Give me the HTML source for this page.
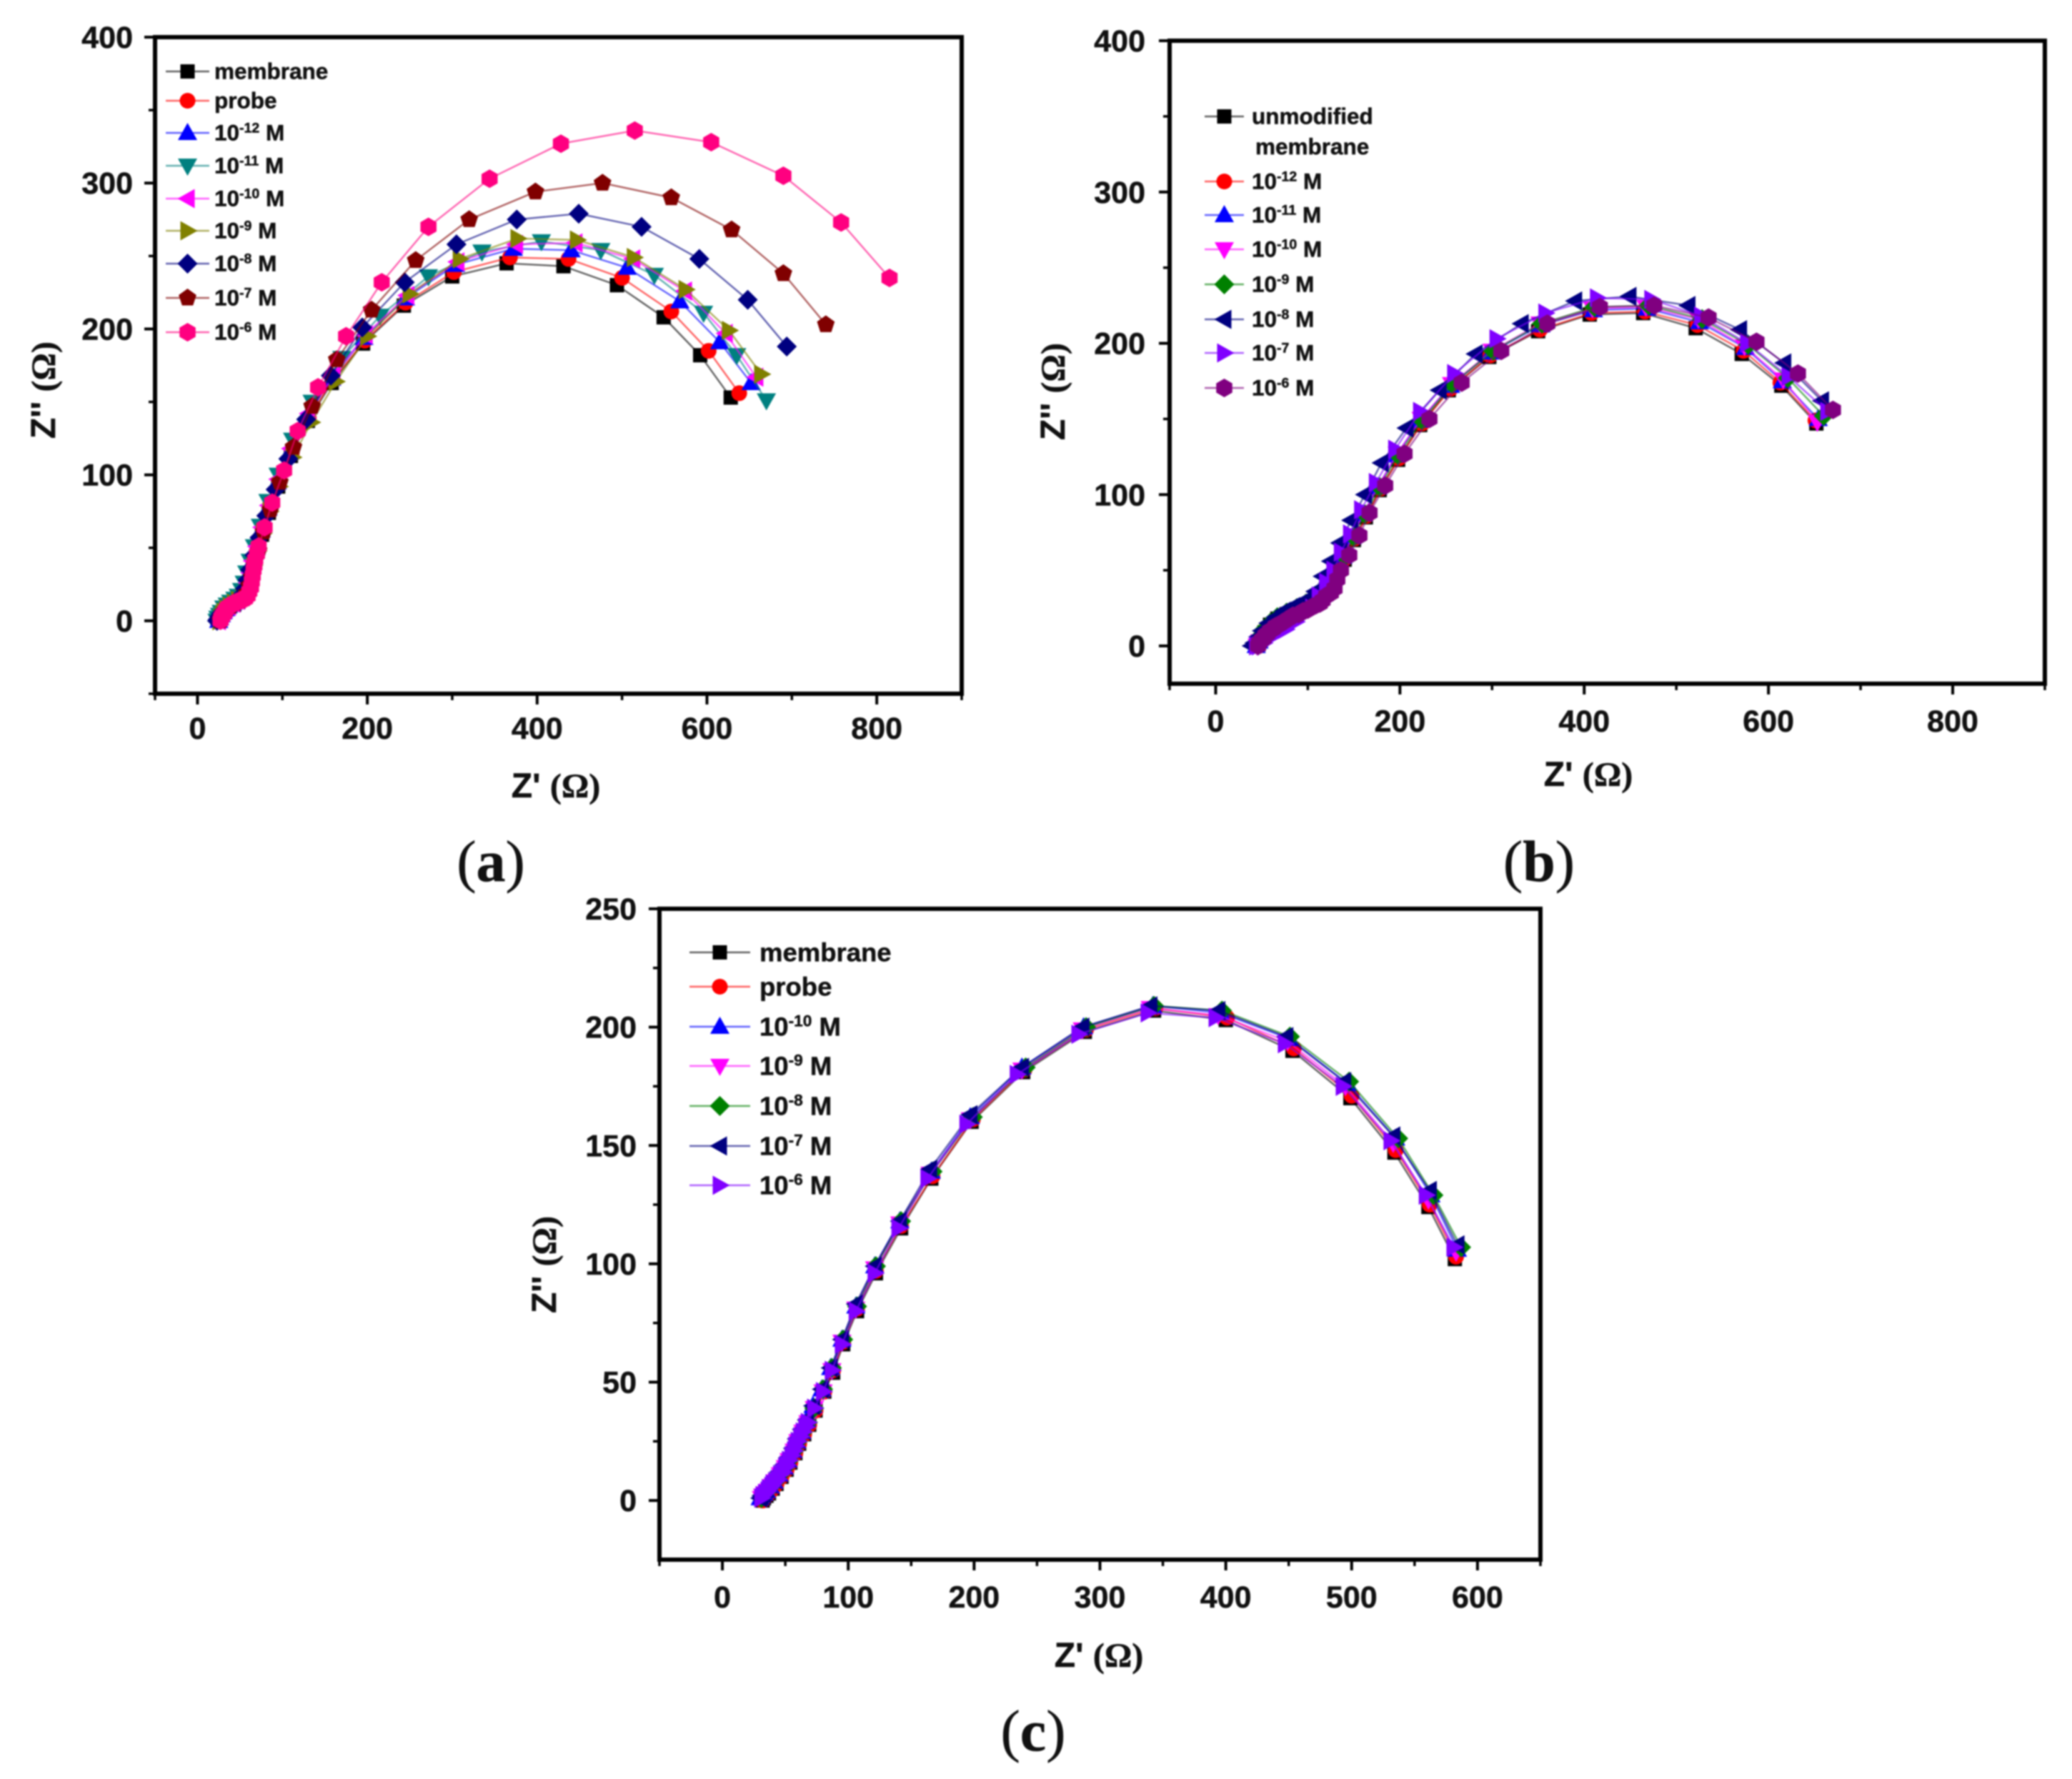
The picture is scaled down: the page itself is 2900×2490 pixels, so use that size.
<!DOCTYPE html>
<html lang="en">
<head>
<meta charset="utf-8">
<title>Nyquist plots</title>
<style>
html,body{margin:0;padding:0;background:#fff;}
svg{display:block;filter:blur(1px);}
text{font-family:"Liberation Sans",sans-serif;font-weight:bold;fill:#111;stroke:#111;stroke-width:0.5px;}
</style>
</head>
<body>
<svg id="fig" xmlns="http://www.w3.org/2000/svg" width="2900" height="2490" viewBox="0 0 2900 2490"></svg>
<script>
/* ---------- panel (a) data ---------- */
const aMembrane=[[628,153],[592,182],[549,208],[494,230],[431,243],[364,245],[300,236],[243,216],[195,190],[158,163],[130,137],[110,113],[95,92],[84,74],[76,59],[70,47],[66,37],[63,29],[60,23],[57,18],[53,15],[48,13],[43,11],[38,10],[34,8],[31,6],[29,4],[27,2],[26,0]];
const aProbe=[[638,156],[602,185],[558,212],[500,235],[437,248],[368,249],[302,239],[245,218],[197,192],[159,165],[131,139],[111,115],[96,94],[85,76],[77,61],[71,48],[67,38],[64,30],[61,24],[58,19],[54,16],[49,14],[44,12],[39,10],[35,8],[32,6],[30,4],[28,2],[27,0]];
const aM12=[[652,163],[615,191],[568,219],[506,242],[440,254],[372,255],[304,244],[245,221],[196,194],[158,166],[129,140],[109,116],[94,95],[83,77],[75,62],[69,50],[64,40],[61,32],[58,25],[55,20],[51,16],[46,14],[41,12],[36,10],[33,8],[30,6],[28,4],[26,2],[25,0]];
const aM11=[[670,151],[635,182],[596,211],[538,237],[475,254],[405,260],[335,253],[272,236],[215,209],[170,180],[135,150],[112,124],[95,100],[83,82],[74,65],[67,51],[62,41],[58,33],[55,26],[52,21],[48,17],[44,15],[39,13],[35,11],[31,9],[28,6],[26,4],[24,2],[23,0]];
const aM10=[[658,167],[622,197],[574,226],[513,248],[445,259],[375,258],[306,246],[247,223],[198,196],[160,168],[131,142],[110,118],[95,97],[84,79],[76,64],[70,51],[65,41],[62,33],[59,26],[56,21],[52,17],[47,14],[42,12],[37,10],[33,8],[30,6],[28,4],[26,2],[25,0]];
const aM9=[[664,169],[626,199],[575,227],[514,249],[447,261],[377,262],[309,248],[250,224],[200,195],[163,164],[134,136],[112,112],[96,92],[85,75],[77,60],[71,48],[66,38],[63,30],[60,24],[57,19],[53,16],[48,14],[43,12],[38,10],[34,8],[31,6],[29,4],[27,2],[26,0]];
const aM8=[[694,188],[648,220],[591,248],[523,270],[449,279],[376,275],[305,258],[244,232],[194,201],[157,168],[128,138],[107,111],[92,90],[81,72],[73,57],[67,45],[62,35],[59,28],[56,22],[53,18],[49,15],[45,13],[40,11],[35,9],[31,7],[28,5],[26,3],[24,1],[23,0]];
const aM7=[[740,203],[690,238],[629,268],[558,290],[477,300],[398,294],[320,275],[257,247],[205,213],[164,179],[135,147],[113,119],[97,95],[86,76],[78,61],[72,48],[67,38],[64,30],[61,24],[58,19],[54,16],[49,14],[44,12],[39,10],[35,8],[32,6],[30,4],[28,2],[27,0]];
const aM6=[[815,235],[758,273],[690,305],[605,328],[515,336],[428,327],[344,303],[272,270],[217,232],[175,195],[142,160],[118,130],[102,103],[88,81],[79,64],[72,51],[70,46],[68,42],[67,38],[66,35],[65,31],[64,27],[63,23],[61,20],[59,17],[56,15],[54,15],[52,14],[50,14],[48,13],[46,13],[44,12],[42,12],[40,11],[37,10],[35,9],[33,7],[31,5],[30,4],[29,3],[28,2],[27,0]];
const aLabels=["membrane","probe","10|-12","10|-11","10|-10","10|-9","10|-8","10|-7","10|-6"];
const aXTicks=[0,200,400,600,800];
const aXMinor=[-50,100,300,500,700,900];
const aYTicks=[0,100,200,300,400];
const aYMinor=[-50,50,150,250,350];

/* ---------- panel (b) data ---------- */
const bMembrane=[[652,147],[614,172],[571,193],[521,210],[464,220],[406,219],[350,208],[297,191],[253,169],[222,146],[198,123],[178,103],[163,85],[150,70],[140,57],[131,46],[123,37],[115,31],[107,28],[98,26],[88,24],[77,21],[67,18],[59,14],[53,9],[49,4],[46,0]];
const bM12=[[651,149],[613,174],[573,195],[523,212],[466,221],[408,220],[352,209],[298,192],[255,170],[224,147],[199,124],[179,104],[164,86],[151,71],[141,58],[132,47],[124,38],[116,32],[108,28],[99,25],[89,22],[78,19],[68,15],[60,11],[54,7],[49,3],[47,0]];
const bM11=[[654,150],[615,175],[575,197],[525,214],[468,223],[410,222],[353,212],[299,194],[255,172],[222,149],[196,126],[176,105],[160,87],[148,72],[138,59],[129,48],[121,39],[113,32],[105,28],[96,25],[86,22],[75,19],[65,15],[57,11],[51,7],[47,3],[44,0]];
const bM10=[[653,148],[616,176],[574,198],[524,216],[467,224],[409,223],[352,213],[300,195],[256,173],[223,150],[197,127],[177,106],[161,88],[149,73],[139,60],[130,49],[122,40],[114,33],[106,28],[97,25],[87,21],[76,18],[66,14],[58,10],[52,6],[48,3],[45,0]];
const bM9=[[660,152],[621,177],[578,199],[528,216],[470,225],[411,224],[354,213],[301,195],[257,173],[224,149],[198,126],[178,105],[162,87],[150,72],[140,59],[131,48],[123,39],[115,33],[107,30],[98,28],[88,25],[77,22],[67,19],[59,15],[53,11],[48,6],[45,1]];
const bM8=[[658,162],[617,187],[569,209],[513,225],[449,231],[390,228],[332,213],[282,193],[243,169],[207,144],[180,121],[162,100],[147,83],[135,68],[125,56],[116,46],[108,36],[100,31],[92,28],[84,26],[74,23],[65,19],[57,15],[50,10],[46,6],[42,2],[39,0]];
const bM7=[[664,155],[622,178],[577,200],[527,218],[473,229],[414,230],[358,220],[305,203],[259,180],[222,155],[195,130],[174,108],[158,90],[146,74],[136,62],[128,50],[120,42],[112,33],[105,25],[97,21],[87,16],[76,11],[66,8],[58,5],[52,2],[47,0],[44,0]];
const bM6=[[670,156],[632,180],[587,201],[535,217],[476,225],[417,224],[360,213],[310,195],[267,174],[232,150],[205,127],[184,106],[167,88],[156,73],[145,60],[136,50],[132,44],[129,38],[125,35],[120,33],[116,30],[113,28],[109,27],[105,26],[100,24],[95,23],[90,21],[84,20],[79,18],[74,16],[69,14],[65,13],[62,11],[59,10],[56,8],[54,7],[52,5],[50,4],[47,2],[46,0]];
const bLabels=["unmodified","10|-12","10|-11","10|-10","10|-9","10|-8","10|-7","10|-6"];
const bXTicks=[0,200,400,600,800];
const bXMinor=[-50,100,300,500,700,900];
const bYTicks=[0,100,200,300,400];
const bYMinor=[50,150,250,350];

/* ---------- panel (c) data ---------- */
const cMembrane=[[582,102],[561,124],[534,147],[499,170],[453,190],[400,203],[343,207],[288,198],[239,181],[198,160],[166,136],[142,115],[122,96],[107,80],[96,66],[88,54],[81,46],[74,38],[69,32],[65,28],[61,24],[58,20],[54,16],[51,13],[47,10],[43,7],[40,5],[37,3],[35,2],[33,1],[32,0]];
const cProbe=[[583,103],[562,125],[535,148],[500,171],[454,191],[401,204],[344,208],[289,199],[240,182],[199,161],[167,137],[142,116],[122,97],[107,81],[96,67],[88,55],[81,46],[74,38],[69,32],[65,28],[61,24],[58,20],[54,16],[51,13],[47,10],[43,7],[40,5],[37,3],[35,2],[33,1],[32,0]];
const cM10=[[584,106],[563,129],[535,153],[497,176],[451,195],[396,206],[342,209],[287,200],[238,183],[197,162],[166,139],[141,118],[121,99],[106,82],[95,68],[86,56],[79,47],[72,40],[67,34],[63,29],[59,25],[56,21],[52,17],[49,14],[45,11],[41,8],[38,6],[35,4],[33,3],[31,2],[30,1]];
const cM9=[[583,105],[561,127],[533,151],[495,175],[449,194],[394,205],[340,208],[286,199],[238,182],[197,161],[165,138],[141,117],[121,98],[106,81],[95,67],[87,55],[80,46],[73,39],[68,33],[64,29],[60,25],[57,21],[53,17],[50,14],[46,11],[42,8],[39,6],[36,4],[34,3],[32,2],[31,1]];
const cM8=[[587,107],[565,129],[537,153],[498,177],[451,196],[397,207],[343,209],[289,200],[241,183],[199,162],[167,139],[142,118],[122,99],[107,82],[96,68],[87,56],[80,47],[73,39],[68,33],[64,29],[60,25],[57,21],[53,17],[50,14],[46,11],[42,8],[39,6],[36,4],[34,3],[32,2],[31,1]];
const cM7=[[584,108],[562,131],[533,154],[494,177],[448,196],[394,207],[340,209],[286,200],[238,183],[197,163],[165,140],[141,118],[121,99],[106,83],[95,68],[86,56],[79,47],[72,40],[67,34],[63,30],[59,26],[56,22],[52,18],[49,15],[45,12],[41,9],[38,7],[35,5],[33,3],[31,2],[30,1]];
const cM6=[[581,107],[559,129],[531,152],[493,175],[447,193],[392,204],[338,206],[283,197],[234,180],[194,159],[163,136],[140,115],[121,96],[106,80],[95,66],[87,55],[80,46],[73,39],[68,33],[66,31],[64,29],[62,27],[60,25],[58,23],[57,21],[55,19],[53,17],[51,15],[50,14],[48,12],[46,11],[44,9],[42,8],[40,7],[39,6],[37,5],[36,4],[34,3],[32,2],[31,1]];
const cLabels=["membrane","probe","10|-10","10|-9","10|-8","10|-7","10|-6"];
const cXTicks=[0,100,200,300,400,500,600];
const cXMinor=[-50,50,150,250,350,450,550,650];
const cYTicks=[0,50,100,150,200,250];
const cYMinor=[25,75,125,175,225];

/* ---------- drawing ---------- */
const NS="http://www.w3.org/2000/svg";
const fig=document.getElementById("fig");
function el(tag,attrs,parent,txt){
  const e=document.createElementNS(NS,tag);
  for(const k in attrs){e.setAttribute(k,attrs[k]);}
  if(txt!==undefined){e.textContent=txt;}
  (parent||fig).appendChild(e);
  return e;
}
function polyPoints(cx,cy,pts){return pts.map(p=>(cx+p[0])+","+(cy+p[1])).join(" ");}
function regular(n,r,rot){
  const out=[];
  for(let i=0;i<n;i++){
    const t=rot+i*2*Math.PI/n;
    out.push([r*Math.cos(t),r*Math.sin(t)]);
  }
  return out;
}
function marker(kind,cx,cy,color,parent,s){
  let m;
  if(kind==="square"){
    m=el("rect",{x:cx-10*s,y:cy-10*s,width:20*s,height:20*s,fill:color},parent);
  }else if(kind==="circle"){
    m=el("circle",{cx:cx,cy:cy,r:11*s,fill:color},parent);
  }else{
    const shapes={
      up:[[0,-14],[13.5,10],[-13.5,10]],
      down:[[0,14],[13.5,-10],[-13.5,-10]],
      left:[[-14,0],[10,-13.5],[10,13.5]],
      right:[[14,0],[-10,-13.5],[-10,13.5]],
      diamond:[[0,-14],[14,0],[0,14],[-14,0]],
      pentagon:regular(5,13,-Math.PI/2),
      hexagon:regular(6,13,-Math.PI/2)
    };
    const pts=shapes[kind].map(p=>[p[0]*s,p[1]*s]);
    m=el("polygon",{points:polyPoints(cx,cy,pts),fill:color},parent);
  }
  
  
  return m;
}
function labelText(label,x,y,size,parent){
  const t=el("text",{x:x,y:y,"font-size":size},parent);
  const parts=label.split("|");
  if(parts.length===1){t.textContent=label;return t;}
  el("tspan",{},t,parts[0]);
  el("tspan",{dy:-size*0.36,"font-size":size*0.62},t,parts[1]);
  el("tspan",{dy:size*0.36},t,"\u00a0M");
  return t;
}
function drawPanel(p){
  const g=el("g",{});
  
  
  const sx=v=>p.left+(v-p.xMin)*(p.right-p.left)/(p.xMax-p.xMin);
  const sy=v=>p.bottom-(v-p.yMin)*(p.bottom-p.top)/(p.yMax-p.yMin);

  p.series.forEach((s,i)=>{
    const sg=el("g",{},g);
    
    
    const line=el("polyline",{points:s.data.map(d=>sx(d[0])+","+sy(d[1])).join(" "),fill:"none",stroke:s.color,"stroke-width":2.4,"stroke-opacity":0.62},sg);
    
    
    s.data.forEach(d=>marker(s.kind,sx(d[0]),sy(d[1]),s.color,sg,1));
  });

  const frame=el("rect",{x:p.left,y:p.top,width:p.right-p.left,height:p.bottom-p.top,fill:"none",stroke:"#000","stroke-width":6},g);
  
  

  p.xTicks.forEach(v=>{
    const t=el("line",{x1:sx(v),x2:sx(v),y1:p.bottom,y2:p.bottom+15,stroke:"#000","stroke-width":4},g);
    
    
    const l=el("text",{x:sx(v),y:p.bottom+p.xLabelGap,"font-size":p.tickSize,"text-anchor":"middle"},g,String(v));
    
    
  });
  p.xMinor.forEach(v=>{
    const t=el("line",{x1:sx(v),x2:sx(v),y1:p.bottom,y2:p.bottom+9,stroke:"#000","stroke-width":3.5},g);
    
    
  });
  p.yTicks.forEach(v=>{
    const t=el("line",{x1:p.left-15,x2:p.left,y1:sy(v),y2:sy(v),stroke:"#000","stroke-width":4},g);
    
    
    const l=el("text",{x:p.yLabelRight,y:sy(v)+15,"font-size":p.tickSize,"text-anchor":"end"},g,String(v));
    
    
  });
  p.yMinor.forEach(v=>{
    const t=el("line",{x1:p.left-9,x2:p.left,y1:sy(v),y2:sy(v),stroke:"#000","stroke-width":3.5},g);
    
    
  });

  const xt=el("text",{x:p.xTitle[0],y:p.xTitle[1],"font-size":p.titleSize,"text-anchor":"middle"},g);
  
  
  el("tspan",{},xt,"Z' ");
  el("tspan",{"font-family":"Liberation Serif"},xt,"(\u03a9)");

  const yt=el("text",{x:0,y:0,"font-size":p.titleSize,"text-anchor":"middle",transform:"translate("+p.yTitle[0]+","+p.yTitle[1]+") rotate(-90)"},g);
  
  
  el("tspan",{},yt,"Z'' ");
  el("tspan",{"font-family":"Liberation Serif"},yt,"(\u03a9)");

  const lg=el("g",{},g);
  
  
  p.series.forEach((s,i)=>{
    const y=p.legend.rows[i];
    const ent=el("g",{},lg);
    
    
    const ln=el("line",{x1:p.legend.x1,x2:p.legend.x2,y1:y,y2:y,stroke:s.color,"stroke-width":2.4,"stroke-opacity":0.62},ent);
    
    
    marker(s.kind,(p.legend.x1+p.legend.x2)/2,y,s.color,ent,p.legend.scale);
    const lt=labelText(p.labels[i],p.legend.tx,y+p.legend.size*0.34,p.legend.size,ent);
    
    
  });
  if(p.legend.extra){
    const ex=el("text",{x:p.legend.extra[0],y:p.legend.extra[1],"font-size":p.legend.size},lg,"membrane");
    
    
  }

  const pl=el("text",{x:p.tag[0],y:p.tag[1],"font-size":82,"text-anchor":"middle"},g);
  pl.setAttribute("style","font-family:'Liberation Serif',serif;font-weight:normal");
  
  
  el("tspan",{},pl,"(");
  el("tspan",{"font-weight":"bold"},pl,p.letter);
  el("tspan",{},pl,")");
}

drawPanel({
  name:"panel-a",letter:"a",tag:[687,1233],
  left:217,right:1346,top:52,bottom:971,xMin:-50,xMax:900,yMin:-50,yMax:400,
  xTicks:aXTicks,xMinor:aXMinor,yTicks:aYTicks,yMinor:aYMinor,labels:aLabels,
  tickSize:43,titleSize:48,xLabelGap:63,yLabelRight:186,
  xTitle:[778,1116],yTitle:[77,546],
  legend:{x1:232,x2:293,tx:300,size:31.5,scale:1,rows:[100,141,186,232,278,323,369,417,465]},
  series:[
    {id:"membrane",data:aMembrane,color:"#000000",kind:"square"},
    {id:"probe",data:aProbe,color:"#ff0000",kind:"circle"},
    {id:"1e-12",data:aM12,color:"#0000ff",kind:"up"},
    {id:"1e-11",data:aM11,color:"#008080",kind:"down"},
    {id:"1e-10",data:aM10,color:"#ff00ff",kind:"left"},
    {id:"1e-9",data:aM9,color:"#808000",kind:"right"},
    {id:"1e-8",data:aM8,color:"#000080",kind:"diamond"},
    {id:"1e-7",data:aM7,color:"#800000",kind:"pentagon"},
    {id:"1e-6",data:aM6,color:"#ff0080",kind:"hexagon"}
  ]
});
drawPanel({
  name:"panel-b",letter:"b",tag:[2154,1233],
  left:1637,right:2862,top:57,bottom:957,xMin:-50,xMax:900,yMin:-25,yMax:400,
  xTicks:bXTicks,xMinor:bXMinor,yTicks:bYTicks,yMinor:bYMinor,labels:bLabels,
  tickSize:43,titleSize:48,xLabelGap:67,yLabelRight:1603,
  xTitle:[2223,1100],yTitle:[1490,548],
  legend:{x1:1686,x2:1741,tx:1752,size:31.5,scale:1,rows:[163,254,301,349,398,447,494,543],extra:[1757,216]},
  series:[
    {id:"unmodified-membrane",data:bMembrane,color:"#000000",kind:"square"},
    {id:"1e-12",data:bM12,color:"#ff0000",kind:"circle"},
    {id:"1e-11",data:bM11,color:"#0000ff",kind:"up"},
    {id:"1e-10",data:bM10,color:"#ff00ff",kind:"down"},
    {id:"1e-9",data:bM9,color:"#008000",kind:"diamond"},
    {id:"1e-8",data:bM8,color:"#000080",kind:"left"},
    {id:"1e-7",data:bM7,color:"#8000ff",kind:"right"},
    {id:"1e-6",data:bM6,color:"#800080",kind:"hexagon"}
  ]
});
drawPanel({
  name:"panel-c",letter:"c",tag:[1446,2450],
  left:923,right:2156,top:1272,bottom:2183,xMin:-50,xMax:650,yMin:-25,yMax:250,
  xTicks:cXTicks,xMinor:cXMinor,yTicks:cYTicks,yMinor:cYMinor,labels:cLabels,
  tickSize:43,titleSize:48,xLabelGap:67,yLabelRight:891,
  xTitle:[1538,2333],yTitle:[778,1770],
  legend:{x1:965,x2:1050,tx:1063,size:36.5,scale:1,rows:[1333,1381,1437,1492,1548,1604,1659]},
  series:[
    {id:"membrane",data:cMembrane,color:"#000000",kind:"square"},
    {id:"probe",data:cProbe,color:"#ff0000",kind:"circle"},
    {id:"1e-10",data:cM10,color:"#0000ff",kind:"up"},
    {id:"1e-9",data:cM9,color:"#ff00ff",kind:"down"},
    {id:"1e-8",data:cM8,color:"#008000",kind:"diamond"},
    {id:"1e-7",data:cM7,color:"#000080",kind:"left"},
    {id:"1e-6",data:cM6,color:"#8000ff",kind:"right"}
  ]
});
</script>
</body>
</html>
